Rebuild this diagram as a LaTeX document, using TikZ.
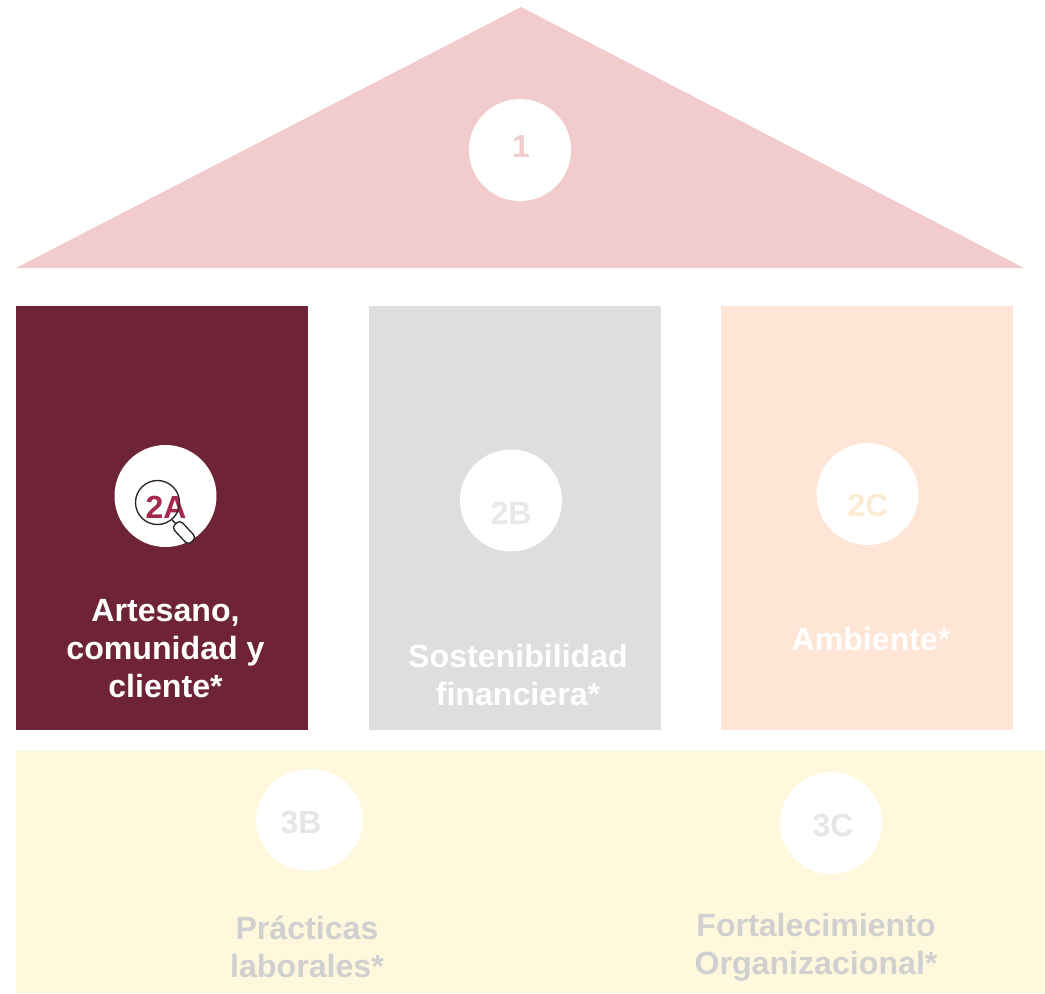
\documentclass[tikz,border=0pt]{standalone}
\usepackage{fontspec}
\setmainfont{Liberation Sans}
\definecolor{roofc}{HTML}{F2CCCD}
\definecolor{winec}{HTML}{6E2436}
\definecolor{greyc}{HTML}{DEDEDE}
\definecolor{peachc}{HTML}{FFE5D5}
\definecolor{basec}{HTML}{FFF8DC}
\definecolor{numa}{HTML}{A32A4C}
\definecolor{numb}{HTML}{E8E8E8}
\definecolor{numc}{HTML}{FDEBD3}
\definecolor{numd}{HTML}{E6E6E6}
\definecolor{labd}{HTML}{D0D0D0}
\tikzset{
  panel/.style={draw=none,inner sep=0pt,minimum width=292*0.75pt,minimum height=424*0.75pt},
  disc/.style={circle,fill=white,draw=none,inner sep=0pt,minimum size=102*0.75pt},
  num/.style={font=\fontsize{24pt}{26pt}\selectfont\bfseries,inner sep=0pt},
  lab/.style={font=\fontsize{24.1pt}{28.5pt}\selectfont\bfseries,align=center,inner sep=0pt},
}
\begin{document}
\begin{tikzpicture}[x=0.75pt,y=-0.75pt]
\useasboundingbox (0,0) rectangle (1045,993);
\fill[white] (0,0) rectangle (1045,993);
\fill[roofc] (521,7) -- (1024,268) -- (16,268) -- cycle;
\node[panel,fill=winec] (pa) at (162,518) {};
\node[panel,fill=greyc] (pb) at (515,518) {};
\node[panel,fill=peachc] (pc) at (867,518) {};
\fill[basec] (16,751) rectangle (1045,993);
\node[disc] (d1) at (520,150) {};
\node[disc] (d2a) at (165.5,496) {};
\node[disc] (d2b) at (511,500.5) {};
\node[disc] (d2c) at (867.5,494) {};
\fill[white] (309.5,820) ellipse [x radius=53.5,y radius=51];
\node[disc] (d3c) at (831,823) {};
\node[num,text=roofc] (n1) at (521,146) {1};
\node[num,text=numa] (n2a) at (166,507) {2A};
\node[num,text=numb] (n2b) at (511,513) {2B};
\node[num,text=numc] (n2c) at (868,505) {2C};
\node[num,text=numd] (n3b) at (301,822) {3B};
\node[num,text=numd] (n3c) at (833,825) {3C};
\node[lab,text=white] (l2a) at (165.5,649) {Artesano,\\comunidad y\\cliente*};
\node[lab,text=white] (l2b) at (518,675) {Sostenibilidad\\financiera*};
\node[lab,text=white] (l2c) at (871,639) {Ambiente*};
\node[lab,text=labd] (l3b) at (307,947) {Prácticas\\laborales*};
\node[lab,text=labd] (l3c) at (816,947.5) {Fortalecimiento\\Organizacional*};
\node[circle,draw=black!85,line width=1pt,inner sep=0pt,minimum size=44*0.75pt] (lens) at (157.5,502.5) {};
\node[draw=black!85,fill=white,line width=1pt,rounded corners=3pt,rotate=-47,inner sep=0pt,minimum width=24*0.75pt,minimum height=11*0.75pt] (hnd) at (184,532.5) {};
\draw[black!85,line width=1pt] (lens.-50) -- (hnd.west);
\end{tikzpicture}
\end{document}
